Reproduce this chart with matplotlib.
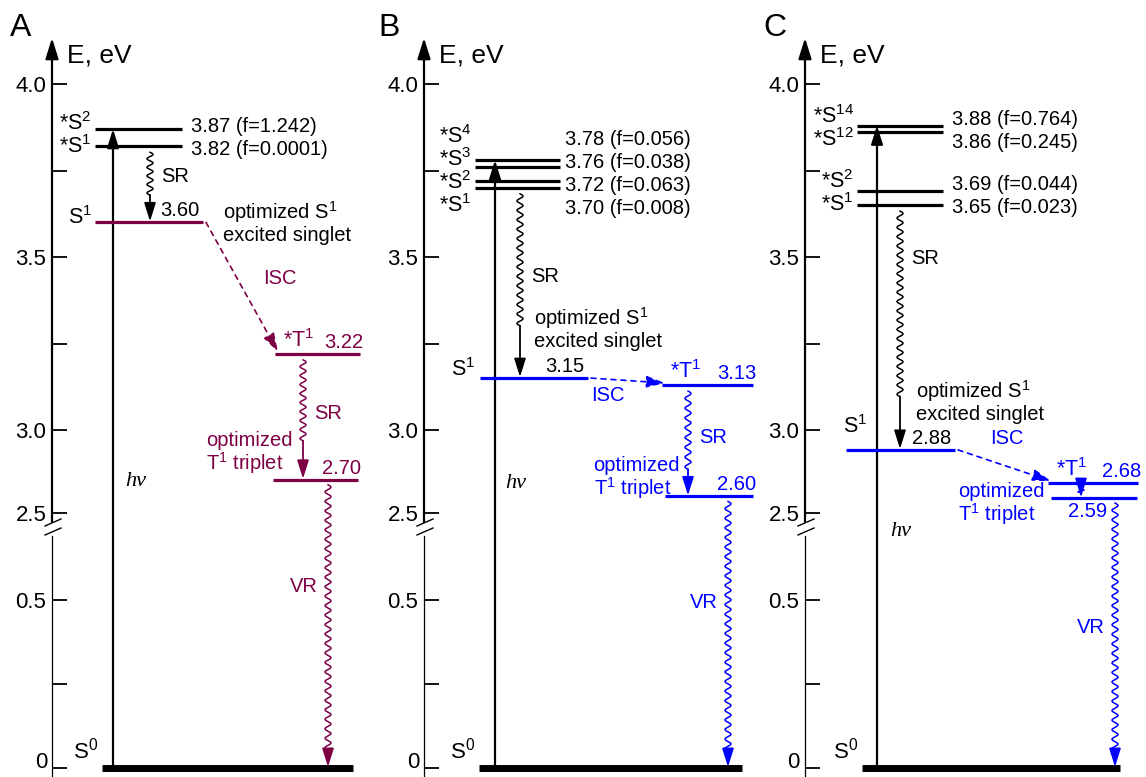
import numpy as np
import matplotlib
matplotlib.use('Agg')
import matplotlib.pyplot as plt

plt.rcParams['font.family'] = 'Liberation Sans'
plt.rcParams['mathtext.fontset'] = 'custom'
plt.rcParams['mathtext.rm'] = 'Liberation Sans'
plt.rcParams['mathtext.it'] = 'Liberation Sans:italic'

# ---- data (eV) ----
a_exc_E = [3.87, 3.82]
a_exc_f = ['1.242', '0.0001']
a_exc_n = ['2', '1']
a_s1, a_t1, a_t1opt = 3.60, 3.22, 2.70

b_exc_E = [3.78, 3.76, 3.72, 3.70]
b_exc_f = ['0.056', '0.038', '0.063', '0.008']
b_exc_n = ['4', '3', '2', '1']
b_s1, b_t1, b_t1opt = 3.15, 3.13, 2.60

c_exc_E = [3.88, 3.86, 3.69, 3.65]
c_exc_f = ['0.764', '0.245', '0.044', '0.023']
c_exc_n = ['14', '12', '2', '1']
c_s1, c_t1, c_t1opt = 2.88, 2.68, 2.59

maj_ticks = [0, 0.5, 2.5, 3.0, 3.5, 4.0]
maj_labels = ['', '0.5', '2.5', '3.0', '3.5', '4.0']   # "0" is placed by hand (figure edge)
min_ticks = [0.25, 3.25, 3.75]

MAROON = '#7d0045'
BLUE = '#0000ff'
HEAD = '-|>,head_length=0.7,head_width=0.22'
FS = 14.5

# broken energy axis: 0-0.5 and 2.5-4.0 (pixel-like units)
E_ANCH = np.array([-1.0, 0.0, 0.5, 2.5, 3.0, 4.0, 5.0])
P_ANCH = np.array([-336.0, 0.0, 168.0, 255.0, 338.0, 684.0, 1030.0])


def fwd(e):
    return np.interp(e, E_ANCH, P_ANCH)


def inv(p):
    return np.interp(p, P_ANCH, E_ANCH)


def spread(p, gap):
    p = np.asarray(p, float)
    q = p.copy()
    for i in range(1, len(q)):
        if q[i - 1] - q[i] < gap:
            q[i] = q[i - 1] - gap
    return q + (p.mean() - q.mean())


def level(ax, span, e, color, lw=2.3):
    ax.plot(span, [e, e], color=color, lw=lw, solid_capstyle='butt', clip_on=False, zorder=3)


def txt(ax, x, p, s, color='k', size=FS, **kw):
    ax.text(x, inv(p), s, color=color, fontsize=size, clip_on=False, **kw)


def wavy(ax, x, e_from, e_to, frac, color, gap=6):
    p0 = fwd(e_from) - gap
    p1 = fwd(e_to) + 1
    pm = p0 + (p1 - p0) * frac
    n = max(1, int(round((p0 - pm) / 9.5)))
    per = (p0 - pm) / n
    s = np.linspace(p0, pm, 400)
    xs = x + 3.0 * np.sin(2 * np.pi * (p0 - s) / per)
    ax.plot(xs, inv(s), color=color, lw=1.1, clip_on=False)
    ax.annotate('', xy=(x, inv(p1)), xytext=(x, inv(pm)),
                arrowprops=dict(arrowstyle=HEAD, color=color, lw=1.3,
                                shrinkA=0, shrinkB=0, mutation_scale=16))
    return p0, p1


def panel(fig, letter, L, exc_E, exc_f, exc_n, s1, t1, t1opt, col):
    ax = fig.add_axes([L['ax'] / 1146, 0, 340 / 1146, 1])
    ax.set_xlim(0, 340)
    ax.set_yscale('function', functions=(fwd, inv))
    ax.set_ylim(inv(-9), inv(768))
    ax.patch.set_visible(False)
    for sp in ax.spines.values():
        sp.set_visible(False)
    ax.set_xticks([])
    ax.set_yticks(maj_ticks)
    ax.set_yticklabels(maj_labels)
    ax.set_yticks(min_ticks, minor=True)
    ax.tick_params(axis='y', which='both', direction='in', length=11, width=1.3,
                   labelsize=16, pad=4)
    txt(ax, -5, 5, '0', size=16, ha='right', va='center')

    # axis with break
    ax.plot([0, 0], [inv(-9), inv(232)], color='k', lw=0.9, clip_on=False)
    ax.annotate('', xy=(0, inv(730)), xytext=(0, inv(246)),
                arrowprops=dict(arrowstyle=HEAD, color='k', lw=1.6,
                                shrinkA=0, shrinkB=0, mutation_scale=18))
    for pb in (236, 245):
        ax.plot([-7, 9], [inv(pb - 3), inv(pb + 4)], color='k', lw=1.0, clip_on=False)
    txt(ax, 15, 712, 'E, eV', size=19, va='center')
    txt(ax, L['letter_x'], 740, letter, size=23, va='center')

    # vertical excitation and ground state
    ax.annotate('', xy=(L['hv'], exc_E[0]), xytext=(L['hv'], 0),
                arrowprops=dict(arrowstyle=HEAD, color='k', lw=1.6,
                                shrinkA=0, shrinkB=0, mutation_scale=16))
    ax.text(L['hv_txt'][0], inv(L['hv_txt'][1]), 'hν', fontsize=16, style='italic',
            family='Liberation Serif', va='center')
    level(ax, L['s0'], 0, 'k', lw=5)
    txt(ax, L['s0'][0] - 4, 4, 'S$^0$', size=16, ha='right', va='bottom')

    # vertical excited singlets
    pos = fwd(np.array(exc_E))
    lab = spread(pos, 23)
    for e, f, n, pl in zip(exc_E, exc_f, exc_n, lab):
        level(ax, L['exc'], e, 'k')
        txt(ax, L['exc_lab'], pl, '%.2f (f=%s)' % (e, f), va='center')
        txt(ax, L['exc'][0] - 3, pl + 3, '*S$^{%s}$' % n, size=15.5,
            ha='right', va='center')

    # optimized S1
    level(ax, L['s1'], s1, col)
    p_s1 = fwd(s1)
    txt(ax, L['s1_name'][0], p_s1 + L['s1_name'][1], 'S$^1$', size=15.5,
        ha=L['s1_name'][2], va='center')
    txt(ax, L['s1'][1] - 4, p_s1 + 2, '%.2f' % s1, va='bottom', ha='right')
    txt(ax, L['opt_s1'][0], p_s1 + L['opt_s1'][1], 'optimized S$^1$\nexcited singlet',
        va='center', linespacing=1.05)
    p0, p1 = wavy(ax, L['sr1'], exc_E[-1], s1, L['sr1_frac'], 'k')
    txt(ax, L['sr1'] + 11, p0 + (p1 - p0) * L['sr1_t'], 'SR', va='center')

    # intersystem crossing
    pa, pb = p_s1, fwd(t1) + 2
    xa, xb = L['s1'][1] + 3, L['t1'][0] + 3
    ax.annotate('', xy=(xb, inv(pb)), xytext=(xa, inv(pa)),
                arrowprops=dict(arrowstyle=HEAD, color=col, lw=1.2, ls=(0, (3, 3)),
                                shrinkA=0, shrinkB=0, mutation_scale=16))
    txt(ax, (xa + xb) / 2 + L['isc'][0], (pa + pb) / 2 + L['isc'][1], 'ISC', color=col,
        ha='center', va='center')

    # triplets
    level(ax, L['t1'], t1, col)
    p_t1 = fwd(t1)
    txt(ax, L['t1'][0] + 8, p_t1 + 2, '*T$^1$', color=col, size=15.5, va='bottom')
    txt(ax, L['t1'][1] + 3, p_t1 + 2, '%.2f' % t1, color=col, ha='right', va='bottom')
    p0, p1 = wavy(ax, L['sr2'], t1, t1opt, L['sr2_frac'], col)
    if L['sr2_lab']:
        txt(ax, L['sr2'] + 11, p0 + (p1 - p0) * 0.45, 'SR', color=col, va='center')
    level(ax, L['t1o'], t1opt, col)
    p_t1o = fwd(t1opt)
    txt(ax, L['t1o_lab'][0], p_t1o + L['t1o_lab'][1], '%.2f' % t1opt, color=col, ha='right',
        va='bottom' if L['t1o_lab'][1] > 0 else 'top')
    txt(ax, L['opt_t1'][0], p_t1o + L['opt_t1'][1], 'optimized\nT$^1$ triplet', color=col,
        ha='right', va='center', linespacing=1.0, multialignment='left')

    # vibrational relaxation to S0
    p0, p1 = wavy(ax, L['vr'], t1opt, 0, 0.94, col, gap=5)
    txt(ax, L['vr'] - 10, p0 + (p1 - p0) * L['vr_t'], 'VR', color=col, ha='right', va='center')
    return ax


LAY_A = dict(ax=52, letter_x=-42, hv=61, hv_txt=(73, 286), s0=(50, 301),
             exc=(43, 130), exc_lab=139,
             s1=(43, 151), s1_name=(40, 5, 'right'), opt_s1=(171, 0),
             sr1=98, sr1_frac=0.62, sr1_t=0.35, isc=(38, 9),
             t1=(223, 308), sr2=251, sr2_frac=0.68, sr2_lab=True,
             t1o=(221, 306), t1o_lab=(309, 2), opt_t1=(241, 26), vr=276, vr_t=0.36)
LAY_B = dict(ax=424, letter_x=-46, hv=71, hv_txt=(81, 285), s0=(55, 318),
             exc=(51, 136), exc_lab=141,
             s1=(56, 164), s1_name=(51, 9, 'right'), opt_s1=(110, 50),
             sr1=96, sr1_frac=0.72, sr1_t=0.45, isc=(-20, -15),
             t1=(238, 329), sr2=264, sr2_frac=0.75, sr2_lab=True,
             t1o=(241, 329), t1o_lab=(332, 2), opt_t1=(256, 18), vr=304, vr_t=0.38)
LAY_C = dict(ax=805, letter_x=-42, hv=72, hv_txt=(85, 236), s0=(57, 315),
             exc=(52, 138), exc_lab=147,
             s1=(41, 150), s1_name=(38, 23, 'left'), opt_s1=(111, 49),
             sr1=95, sr1_frac=0.78, sr1_t=0.2, isc=(2, 27),
             t1=(243, 333), sr2=276, sr2_frac=0.45, sr2_lab=False,
             t1o=(246, 332), t1o_lab=(302, -4), opt_t1=(240, -6), vr=310, vr_t=0.47)

fig = plt.figure(figsize=(11.46, 7.77), dpi=100)
panel(fig, 'A', LAY_A, a_exc_E, a_exc_f, a_exc_n, a_s1, a_t1, a_t1opt, MAROON)
panel(fig, 'B', LAY_B, b_exc_E, b_exc_f, b_exc_n, b_s1, b_t1, b_t1opt, BLUE)
panel(fig, 'C', LAY_C, c_exc_E, c_exc_f, c_exc_n, c_s1, c_t1, c_t1opt, BLUE)
fig.savefig('out.png', dpi=100)
